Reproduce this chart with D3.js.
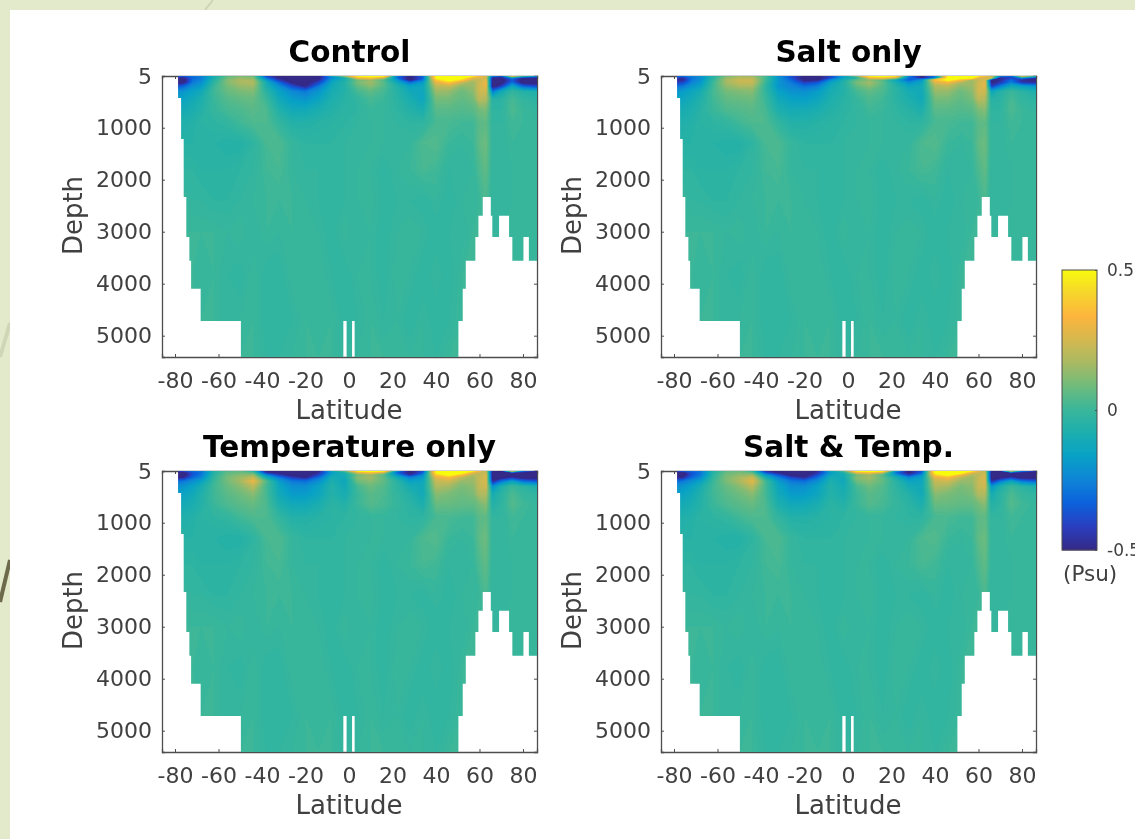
<!DOCTYPE html>
<html lang="en">
<head>
<meta charset="utf-8">
<title>Salinity sections</title>
<script src="https://d3js.org/d3.v7.min.js"></script>
<style>
html, body { margin: 0; background: white; overflow: hidden; }
svg { display: block; font-family: 'DejaVu Sans'; filter: blur(0.4px); }
.tick text, .label { fill: #404040; font-family: 'DejaVu Sans'; }
.axis path, .axis line { stroke: #4d4d4d; }
</style>
</head>
<body>
<div id="vis"></div>
<script>
// salinity anomaly, in hundredths of a psu
var latitudes = [-79,-76,-72,-68,-62,-56,-50,-44, -38,-32,-26,-20,-14,-8,-2,4, 10,16,22,28,34,40,46,52, 57,60,63,66,70,75,80,87];
var depths = [5,40,80,130,200,300,450,650,900,1300,1800,2400,3000,3800,4700,5410];

var controlUpper = [
  [-35,-35,-28,-25,-10,5,10,8, -40,-52,-55,-55,-52,-15,15,50, 55,50,-25,-50,-30,50,58,58, 48,35,25,-25,-35,30,0,-20],
  [-48,-50,-33,-28,-8,8,14,12, -32,-52,-55,-55,-52,-25,-10,32, 38,22,-30,-55,-35,50,58,55, 30,25,25,-52,-52,-22,-50,-52],
  [-55,-55,-30,-25,-5,11,17,16, -18,-44,-55,-55,-48,-18,-8,8, 14,3,-18,-55,-28,38,55,40, 20,22,28,-55,-55,-36,-55,-55],
  [-55,-52,-28,-22,-3,11,17,18, -10,-32,-52,-55,-40,-14,-6,10, 16,5,-12,-30,-18,28,38,22, 14,24,30,-55,-55,-30,-55,-55],
  [-36,-32,-22,-18,0,9,14,15, -8,-22,-38,-50,-28,-12,-6,6, 12,4,-6,-16,-14,20,22,12, 14,24,30,-55,-42,-14,-32,-40],
  [-22,-20,-16,-12,1,7,10,11, -4,-16,-24,-28,-20,-10,-6,2, 6,2,-5,-12,-14,15,14,8, 12,24,24,-28,-12,-2,-6,-8],
  [-17,-15,-12,-8,0,4,6,7, 0,-12,-18,-20,-15,-8,-5,-2, 2,0,-4,-9,-14,9,9,6, 9,20,18,-5,-4,2,-2,-4],
  [-12,-11,-9,-6,-1,2,3,5, 3,-7,-12,-12,-9,-6,-4,-3, 0,-1,-3,-6,-9,5,5,4, 5,9,10,-3,-3,3,0,-2]
];
var saltUpper = [
  [-28,-30,-25,-20,-6,8,14,14, 2,-22,-35,-50,-50,-40,-14,12, 50,52,46,-25,-50,-26,50,58, 58,48,34,24,-25,-32,28,-5],
  [-42,-46,-30,-24,-4,14,20,20, 2,-20,-38,-55,-55,-40,-16,-6, 30,36,20,-30,-52,-28,50,58, 55,28,24,24,-50,-42,-22,-46],
  [-48,-50,-28,-22,-2,16,22,22, 2,-20,-32,-52,-52,-24,-8,6, 12,4,-14,-34,-20,36,52,34, 16,22,26,-55,-48,-30,-48,-52],
  [-42,-40,-26,-20,0,16,22,22, 0,-20,-28,-42,-36,-16,-6,10, 16,6,-9,-22,-15,26,32,18, 14,24,28,-52,-44,-26,-44,-48],
  [-30,-28,-20,-16,1,13,17,17, -2,-20,-25,-30,-26,-12,-6,6, 12,4,-5,-14,-12,18,20,12, 14,24,28,-42,-26,-12,-16,-22],
  [-20,-18,-14,-10,2,9,11,12, -2,-16,-21,-22,-18,-10,-6,2, 6,3,-4,-10,-12,14,14,8, 12,24,24,-14,-6,0,-4,-8],
  [-15,-14,-11,-7,1,6,7,8, 0,-12,-16,-17,-14,-8,-5,-1, 3,1,-4,-8,-12,9,9,6, 9,20,18,-5,-4,2,-2,-4],
  [-11,-10,-8,-5,0,3,4,5, 2,-8,-11,-11,-9,-6,-4,-2, 1,0,-3,-5,-8,5,5,4, 5,10,12,-3,-3,3,0,-2]
];
var tempUpper = [
  [-42,-38,-30,-28,-4,4,6,-5, -52,-55,-55,-55,-50,-12,5,50, 55,50,-20,-52,-38,50,58,58, 48,30,20,-48,-50,25,-30,-48],
  [-55,-55,-38,-30,-5,6,8,4, -45,-55,-55,-55,-48,-18,-8,24, 32,18,-32,-55,-34,50,58,54, 28,22,22,-55,-55,-52,-55,-55],
  [-55,-55,-36,-28,-3,8,12,14, -24,-42,-55,-55,-40,-14,-10,8, 14,4,-20,-46,-24,38,52,34, 18,20,26,-55,-55,-55,-55,-55],
  [-52,-48,-32,-24,-2,9,15,22, -10,-28,-42,-50,-30,-10,-12,12, 16,6,-10,-26,-18,28,34,20, 14,22,26,-55,-55,-46,-55,-55],
  [-30,-28,-22,-16,0,9,16,30, 4,-18,-28,-30,-22,-8,-14,8, 12,6,-4,-16,-14,22,24,14, 14,22,26,-48,-30,-16,-30,-36],
  [-22,-20,-16,-10,1,7,12,20, 2,-14,-22,-22,-16,-6,-12,2, 8,4,-3,-10,-12,18,16,10, 12,22,24,-22,-8,0,-4,-8],
  [-17,-15,-12,-7,1,5,8,12, 2,-12,-18,-18,-14,-6,-10,0, 5,3,-2,-6,-12,12,10,8, 10,18,18,-10,-4,3,-1,-3],
  [-12,-11,-9,-6,0,3,5,7, 3,-8,-12,-12,-9,-4,-6,0, 4,2,-1,-4,-8,7,7,6, 6,9,12,-6,-3,4,1,-1]
];
var bothUpper = [
  [-40,-36,-30,-28,-5,5,8,-2, -45,-55,-55,-55,-48,-12,5,50, 55,50,-18,-50,-35,52,58,58, 48,30,20,-48,-48,22,-28,-45],
  [-55,-55,-38,-30,-5,7,10,6, -36,-52,-55,-55,-46,-18,-8,26, 32,18,-30,-55,-32,52,58,54, 28,22,22,-55,-55,-50,-55,-55],
  [-55,-55,-36,-28,-3,9,13,15, -18,-36,-54,-55,-38,-14,-10,8, 14,4,-18,-42,-22,40,52,32, 18,20,26,-55,-55,-55,-55,-55],
  [-50,-48,-32,-24,-2,10,16,23, -8,-26,-40,-48,-30,-10,-12,12, 16,6,-9,-24,-16,28,34,20, 14,22,26,-55,-55,-44,-55,-55],
  [-30,-28,-22,-16,0,10,17,28, 2,-18,-28,-30,-22,-8,-13,8, 12,6,-4,-15,-14,22,24,14, 14,22,26,-46,-28,-14,-28,-34],
  [-22,-20,-16,-10,1,7,12,20, 2,-14,-22,-22,-16,-6,-11,2, 8,4,-3,-10,-12,18,16,10, 12,22,24,-20,-8,0,-4,-8],
  [-17,-15,-12,-7,1,5,8,12, 2,-12,-18,-18,-14,-6,-9,0, 5,3,-2,-6,-12,12,10,8, 10,18,18,-10,-4,3,-1,-3],
  [-12,-11,-9,-6,0,3,5,7, 3,-8,-12,-12,-9,-4,-6,0, 4,2,-1,-4,-8,7,7,6, 6,9,12,-6,-3,4,1,-1]
];
// below 900 m the four panels read the same
var deepRows = [
  [-7,-7,-6,-4,-3,-2,1,3, 3,-2,-6,-6,-5,-4,-3,-2, -1,-1,-2,-3,-3,2,2,1, 1,5,6,-2,-2,1,0,-1],
  [-5,-5,-5,-5,-5,-6,-6,-3, 2,3,-1,-3,-3,-3,-2,-2, -1,-1,-2,-1,3,4,0,-1, 0,6,8,-2,-2,0,-1,-1],
  [-3,-3,-3,-4,-4,-4,-3,-2, 1,2,-1,-2,-2,-3,-2,-1, -1,-3,-1,0,2,1,-2,-2, -1,3,6,-2,-2,-1,-1,-1],
  [-1,-1,-2,-2,-3,-3,-2,-1, 0,0,0,-1,-2,-3,-2,-1, 0,-3,-2,-2,-3,-1,-3,-1, -1,0,3,-2,-2,-1,-1,-1],
  [0,0,0,0,0,-1,0,-2, 0,-1,0,-1,-1,-3,0,-2, -1,-3,-1,0,-1,-3,-2,-2, 0,0,0,-1,-1,-1,-1,-1],
  [0,0,0,-1,0,-2,-3,0, -3,-3,0,-1,0,-2,-3,-1, -1,-3,0,-1,-3,-1,-3,0, 0,0,0,0,0,0,0,0],
  [0,0,0,0,0,-2,-1,0, -3,-3,-2,0,-1,0,-3,-2, 0,-2,-1,-3,-1,-3,-2,0, 0,0,0,0,0,0,0,0],
  [0,0,0,0,0,0,0,0, -2,-2,-1,0,0,0,-2,-1, 0,0,-1,-1,-1,-2,0,0, 0,0,0,0,0,0,0,0]
];

// sea floor as steps: depth from each latitude to the next one
var floorLat = [-87,-78.6,-77.2,-76,-74.8,-73.4,-72.6,-68.2,-49.7,-2.6,-1.1,1.4,2.6,50.3,52.3,53.7,58.1,59.5,61.5,65.2,65.9,69,73.6,75.1,80.2,82.7,86.44];
var floorDepth = [5,430,1216,2332,3100,3557,4095,4717,5410,4717,5410,4717,5410,4717,4095,3557,3100,2691,2332,2691,3100,2691,3100,3557,3100,3557,3557];

var panelTitles = ['Control', 'Salt only', 'Temperature only', 'Salt & Temp.'];
var panelUpper = [controlUpper, saltUpper, tempUpper, bothUpper];
var latTicks = [-80, -60, -40, -20, 0, 20, 40, 60, 80];
var depthTicks = [5, 1000, 2000, 3000, 4000, 5000];
var colorbarTicks = [-0.5, 0, 0.5];
var parulaStops = ['#352a87', '#2a3fc0', '#0b62dc', '#0f85d6', '#08a1c6', '#1caeae', '#3ab79a', '#6fbb7c', '#a9ba63', '#d5b84f', '#fdb53d', '#f6d62c', '#f9fb0e'];

var svgWidth = 1135, svgHeight = 839;
var plotW = 375, plotH = 281;

var svg = d3.select('#vis').append('svg')
    .attr('width', svgWidth)
    .attr('height', svgHeight);

// slide background
svg.append('rect').attr('width', svgWidth).attr('height', svgHeight).attr('fill', '#e3eacc');
svg.append('path').attr('d', 'M213,0L205,10').attr('stroke', '#cdd4b4').attr('stroke-width', 2);
svg.append('path').attr('d', 'M10,323L0,357').attr('stroke', '#cfd6b6').attr('stroke-width', 4);
svg.append('path').attr('d', 'M10,560L0,602').attr('stroke', '#6d6a4c').attr('stroke-width', 4);
svg.append('rect').attr('x', 10).attr('y', 10).attr('width', svgWidth).attr('height', svgHeight).attr('fill', 'white');

var color = d3.scaleLinear()
    .domain(d3.range(parulaStops.length).map(function(i) { return -0.5 + i / (parulaStops.length - 1); }))
    .range(parulaStops)
    .clamp(true);

var x = d3.scaleLinear().domain([-85.98, 86.44]).range([0, plotW]);
var y = d3.scaleLinear().domain([5, 5410]).range([0, plotH]);

// grid index -> data value, the grid is not evenly spaced
var latAt = d3.scaleLinear().domain(d3.range(latitudes.length)).range(latitudes);
var depthAt = d3.scaleLinear().domain(d3.range(depths.length)).range(depths);

var gridPath = d3.geoPath(d3.geoTransform({
    point: function(i, j) {
        this.stream.point(x(latAt(i - 0.5)), y(depthAt(j - 0.5)));
    }
}));

var water = d3.area()
    .x(function(d) { return x(d.lat); })
    .y0(0)
    .y1(function(d) { return y(d.depth); })
    .curve(d3.curveStepAfter);

var floorData = floorLat.map(function(lat, i) { return { lat: lat, depth: floorDepth[i] }; });
var levels = d3.range(-62, 62, 1);
var tickFormat = function(d) { return String(d); };

panelTitles.forEach(function(title, p) {
    var col = p % 2, row = Math.floor(p / 2);
    var g = svg.append('g')
        .attr('transform', 'translate(' + (162 + col * 499) + ',' + (76 + row * 395) + ')');

    var grid = d3.merge(panelUpper[p].concat(deepRows));
    var contours = d3.contours()
        .size([latitudes.length, depths.length])
        .thresholds(levels)(grid);

    // box with inward ticks, sits under the field like the original
    g.append('g').attr('class', 'axis')
        .call(d3.axisTop(x).tickValues(latTicks).tickSize(-3).tickFormat(''));
    g.append('g').attr('class', 'axis')
        .attr('transform', 'translate(' + plotW + ',0)')
        .call(d3.axisRight(y).tickValues(depthTicks).tickSize(-3).tickFormat(''));
    g.append('g').attr('class', 'axis')
        .attr('transform', 'translate(0,' + plotH + ')')
        .call(d3.axisBottom(x).tickValues(latTicks).tickSize(-3).tickPadding(15).tickFormat(tickFormat))
        .selectAll('text').attr('font-size', 22);
    g.append('g').attr('class', 'axis')
        .call(d3.axisLeft(y).tickValues(depthTicks).tickSize(-3).tickPadding(10).tickFormat(tickFormat))
        .selectAll('text').attr('font-size', 22);
    g.selectAll('.domain').attr('stroke-width', 1.3);

    g.append('clipPath').attr('id', 'water' + p)
        .append('path').attr('d', water(floorData))
        .attr('shape-rendering', 'crispEdges');

    g.append('g').attr('clip-path', 'url(#water' + p + ')')
        .style('opacity', 0.999)
        .selectAll('path')
        .data(contours)
        .enter()
        .append('path')
        .attr('d', gridPath)
        .attr('fill', function(d) { return color(d.value / 100 + 0.005); });

    g.append('text')
        .attr('x', plotW / 2).attr('y', -14)
        .attr('text-anchor', 'middle')
        .attr('font-weight', 'bold').attr('font-size', 29.5)
        .attr('fill', 'black')
        .text(title);
    g.append('text').attr('class', 'label')
        .attr('x', x(0)).attr('y', plotH + 62)
        .attr('text-anchor', 'middle').attr('font-size', 26)
        .text('Latitude');
    g.append('text').attr('class', 'label')
        .attr('transform', 'translate(-80,' + (plotH / 2 - 1) + ') rotate(-90)')
        .attr('text-anchor', 'middle').attr('font-size', 26)
        .text('Depth');
});

// colorbar
var cbarX = 1062, cbarW = 35, cbarTop = 270, cbarH = 280;
var cbarY = d3.scaleLinear().domain([-0.5, 0.5]).range([cbarTop + cbarH, cbarTop]);
var cbar = svg.append('g');
cbar.selectAll('rect')
    .data(d3.range(-0.5, 0.5, 1 / 140))
    .enter()
    .append('rect')
    .attr('x', cbarX)
    .attr('width', cbarW)
    .attr('y', function(d) { return cbarY(d + 1 / 140); })
    .attr('height', cbarH / 140 + 0.5)
    .attr('fill', function(d) { return color(d); });
cbar.append('rect')
    .attr('x', cbarX).attr('y', cbarTop)
    .attr('width', cbarW).attr('height', cbarH)
    .attr('fill', 'none').attr('stroke', '#4d4d4d');
cbar.append('g').attr('class', 'axis')
    .attr('transform', 'translate(' + (cbarX + cbarW) + ',0)')
    .call(d3.axisRight(cbarY).tickValues(colorbarTicks).tickSize(-2).tickPadding(10).tickFormat(function(d) { return d; }))
    .call(function(a) { a.select('.domain').remove(); })
    .selectAll('text').attr('font-size', 17);
svg.append('text').attr('class', 'label')
    .attr('x', 1063).attr('y', 581)
    .attr('font-size', 21.5)
    .text('(Psu)');
</script>
</body>
</html>
